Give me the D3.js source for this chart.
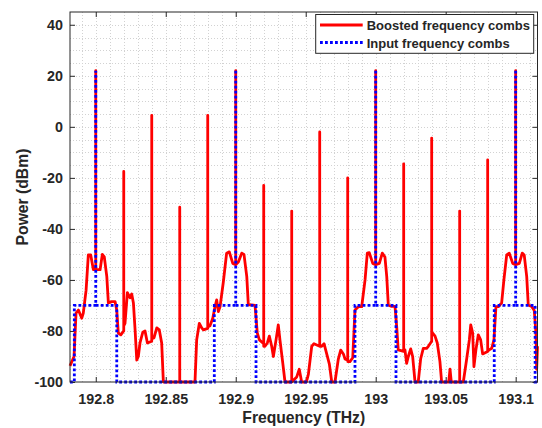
<!DOCTYPE html>
<html>
<head>
<meta charset="utf-8">
<script src="https://cdn.jsdelivr.net/npm/d3@7"></script>
<style>
  html, body { margin: 0; padding: 0; background: #fff; }
  svg { display: block; }
  text { font-family: "Liberation Sans", Arial, Helvetica, sans-serif; font-weight: bold; fill: #262626; }
</style>
</head>
<body>
<svg id="chart" width="542" height="428"></svg>
<script>
// ---------- data ----------
const xTicks = [192.8, 192.85, 192.9, 192.95, 193, 193.05, 193.1];
const xTickLabels = ["192.8", "192.85", "192.9", "192.95", "193", "193.05", "193.1"];
const yTicks = [-100, -80, -60, -40, -20, 0, 20, 40];
const yTickLabels = ["-100", "-80", "-60", "-40", "-20", "0", "20", "40"];
const seriesNames = ["Boosted frequency combs", "Input frequency combs"];

// Boosted frequency combs: [frequency (THz), power (dBm)]
const boosted = [
  [192.7816,-93.7],[192.7845,-90],[192.7859,-73],[192.7876,-71.8],[192.7900,-75],[192.7911,-73],[192.7931,-64],[192.7947,-50.2],[192.7964,-50.2],[192.7983,-56],
  [192.80,-56],[192.80,22],[192.80,-56],
  [192.8031,-56],[192.8047,-50],[192.8061,-51],[192.8079,-58.7],[192.8090,-69],[192.8114,-68.5],[192.8138,-68.5],[192.8150,-71.8],[192.8161,-80.8],[192.8179,-81.5],
  [192.82,-80],[192.82,-17.5],[192.82,-78],
  [192.8209,-77],[192.8226,-65],[192.8245,-67],[192.8257,-65.5],[192.8269,-69],[192.8281,-79.6],[192.8293,-91.4],[192.8304,-90],[192.8316,-84.7],[192.8336,-80.5],[192.8352,-80],[192.8369,-84.7],
  [192.84,-84],[192.84,4.5],[192.84,-83],
  [192.8416,-82.7],[192.8436,-78.8],[192.8454,-79.6],[192.8471,-84.7],[192.8483,-100],
  [192.86,-100],[192.86,-31.5],[192.86,-100],
  [192.8709,-100],[192.8721,-83.5],[192.8740,-77],[192.8757,-78.8],[192.8769,-79.6],
  [192.88,-79],[192.88,4.5],[192.88,-78.5],
  [192.8816,-78],[192.8836,-75],[192.8852,-70.5],[192.8864,-67.8],[192.8876,-72.4],[192.8888,-70.5],[192.8911,-61],[192.8935,-49.5],[192.8954,-49],[192.8979,-53.5],
  [192.90,-54],[192.90,22],[192.90,-54],
  [192.9019,-53],[192.9043,-49.5],[192.9059,-50],[192.9079,-58.7],[192.9090,-69.8],[192.9114,-69.8],[192.9138,-70],[192.9154,-80.8],[192.9169,-83.5],
  [192.92,-85],[192.92,-23],[192.92,-86],
  [192.9209,-86],[192.9226,-84.7],[192.9240,-82],[192.9257,-86],[192.9269,-90],[192.9288,-83.5],[192.9304,-77.6],[192.9316,-83.5],[192.9336,-92.5],[192.9352,-100],
  [192.94,-100],[192.94,-33],[192.94,-100],
  [192.9436,-98],[192.9454,-95],[192.9471,-100],[192.9505,-100],[192.9519,-97],[192.9543,-86],[192.9559,-85],[192.9579,-85.5],
  [192.96,-86],[192.96,-2],[192.96,-86],
  [192.9614,-86],[192.9631,-85],[192.9650,-89],[192.9669,-93],[192.9686,-100],[192.9709,-100],[192.9733,-91],[192.9750,-87.5],[192.9769,-89],[192.9781,-91],
  [192.98,-91.5],[192.98,-20],[192.98,-92],
  [192.9816,-92],[192.9836,-90.5],[192.9852,-71.8],[192.9876,-70.5],[192.9900,-70.5],[192.9924,-60],[192.9940,-49.5],[192.9954,-49.3],[192.9979,-53.5],
  [193.00,-54],[193.00,22],[193.00,-54],
  [193.0026,-53.5],[193.0047,-49.5],[193.0066,-51],[193.0079,-58.7],[193.0090,-69.8],[193.0114,-70.4],[193.0138,-70.4],[193.0150,-78.3],[193.0161,-87.4],
  [193.02,-88],[193.02,-14.5],[193.02,-88],
  [193.0209,-87.4],[193.0221,-92.7],[193.0233,-90],[193.0250,-87],[193.0264,-90],[193.0281,-100],[193.0304,-100],[193.0321,-91],[193.0340,-86.8],[193.0364,-86.8],[193.0376,-86],
  [193.04,-84],[193.04,-4.4],[193.04,-82],
  [193.0407,-80.8],[193.0424,-82],[193.0440,-84.7],[193.0459,-92],[193.0471,-100],[193.0522,-100],[193.0531,-95],[193.0540,-100],
  [193.06,-100],[193.06,-33],[193.06,-100],
  [193.0626,-100],[193.0650,-91],[193.0669,-83.5],[193.0679,-77.6],[193.0693,-80.8],[193.0702,-94],[193.0716,-87.4],[193.0733,-81.5],[193.0750,-83.5],[193.0764,-89],
  [193.08,-88],[193.08,-13],[193.08,-88],
  [193.0811,-87.4],[193.0829,-86.8],[193.0845,-83.5],[193.0859,-70.5],[193.0876,-70.5],[193.0900,-69],[193.0916,-60],[193.0936,-50.2],[193.0954,-49.5],[193.0979,-53.5],
  [193.10,-54],[193.10,22],[193.10,-54],
  [193.1026,-53.5],[193.1047,-49.5],[193.1061,-50.2],[193.1079,-58.7],[193.1090,-69.8],[193.1114,-70.4],[193.1133,-72],[193.1145,-80.8],[193.1150,-95],[193.1156,-86]
];

// Input frequency combs (null = pen up)
const input = [
  [192.7816,-100],[192.7847,-100],[192.7847,-70],[192.80,-70],[192.80,22],[192.80,null],[192.80,-70],[192.8150,-70],[192.8150,-100],
  [192.8847,-100],[192.8847,-70],[192.90,-70],[192.90,22],[192.90,null],[192.90,-70],[192.9145,-70],[192.9145,-100],
  [192.9852,-100],[192.9852,-70],[193.00,-70],[193.00,22],[193.00,null],[193.00,-70],[193.0145,-70],[193.0145,-100],
  [193.0847,-100],[193.0847,-70],[193.10,-70],[193.10,22],[193.10,null],[193.10,-70],[193.1139,-70],[193.1139,-100],[193.1156,-100]
];

// ---------- layout ----------
const L = 70, R = 537.5, T = 12, B = 382;
const svg = d3.select("#chart");

const x = d3.scaleLinear().domain([192.7816, 193.1156]).range([L, R]);
const y = d3.scaleLinear().domain([-100, 45]).range([B, T]);

// grid (minor, dotted)
const gx = d3.range(192.79, 193.1156, 0.01);
const gy = d3.range(-95, 45, 5);
const grid = svg.append("g").attr("stroke", "#d2d2d2").attr("stroke-width", 1).attr("stroke-dasharray", "1,2");
grid.selectAll("line.gx").data(gx).join("line")
  .attr("x1", d => Math.round(x(d)) + 0.5).attr("x2", d => Math.round(x(d)) + 0.5)
  .attr("y1", T).attr("y2", B);
grid.selectAll("line.gy").data(gy).join("line")
  .attr("y1", d => Math.round(y(d)) + 0.5).attr("y2", d => Math.round(y(d)) + 0.5)
  .attr("x1", L).attr("x2", R);

// axes
const fmtX = d => xTickLabels[xTicks.indexOf(d)];
const fmtY = d => yTickLabels[yTicks.indexOf(d)];
const axB = svg.append("g").attr("transform", `translate(0,${B})`)
  .call(d3.axisBottom(x).tickValues(xTicks).tickFormat(fmtX).tickSizeInner(-5).tickSizeOuter(0).tickPadding(12));
const axT = svg.append("g").attr("transform", `translate(0,${T})`)
  .call(d3.axisTop(x).tickValues(xTicks).tickFormat("").tickSizeInner(-5).tickSizeOuter(0));
const axL = svg.append("g").attr("transform", `translate(${L},0)`)
  .call(d3.axisLeft(y).tickValues(yTicks).tickFormat(fmtY).tickSizeInner(-5).tickSizeOuter(0).tickPadding(7));
const axR = svg.append("g").attr("transform", `translate(${R},0)`)
  .call(d3.axisRight(y).tickValues(yTicks).tickFormat("").tickSizeInner(-5).tickSizeOuter(0));
[axB, axT, axL, axR].forEach(a => {
  a.select(".domain").remove();
  a.selectAll(".tick line").attr("stroke", "#262626");
  a.selectAll("text").attr("font-family", "Liberation Sans, Arial, sans-serif").attr("font-weight", "bold")
    .attr("font-size", "14.3px").attr("fill", "#262626");
});

// series
const line = d3.line().defined(d => d[1] != null).x(d => x(d[0])).y(d => y(d[1]));
svg.append("path").datum(boosted).attr("d", line)
  .attr("fill", "none").attr("stroke", "#ff0000").attr("stroke-width", 2.8).attr("stroke-linejoin", "round");
svg.append("path").datum(input).attr("d", line)
  .attr("fill", "none").attr("stroke", "#0000ff").attr("stroke-width", 2.8).attr("stroke-dasharray", "2.8,2.2");

// box
svg.append("rect").attr("x", L).attr("y", T).attr("width", R - L).attr("height", B - T)
  .attr("fill", "none").attr("stroke", "#262626").attr("stroke-width", 1);

// axis titles
svg.append("text").attr("x", (L + R) / 2).attr("y", 423).attr("text-anchor", "middle")
  .attr("font-size", "15.7px").text("Frequency (THz)");
svg.append("text").attr("transform", `translate(28,${(T + B) / 2}) rotate(-90)`).attr("text-anchor", "middle")
  .attr("font-size", "15.7px").text("Power (dBm)");

// legend
const lg = svg.append("g");
lg.append("rect").attr("x", 315.7).attr("y", 14.5).attr("width", 218).attr("height", 38.8)
  .attr("fill", "#fff").attr("stroke", "#262626").attr("stroke-width", 1);
const legendItems = [
  { name: seriesNames[0], color: "#ff0000", dash: null, y: 25 },
  { name: seriesNames[1], color: "#0000ff", dash: "2.8,2.2", y: 42.5 }
];
legendItems.forEach(it => {
  lg.append("line").attr("x1", 320).attr("x2", 362.7).attr("y1", it.y).attr("y2", it.y)
    .attr("stroke", it.color).attr("stroke-width", 2.8).attr("stroke-dasharray", it.dash);
  lg.append("text").attr("x", 366.7).attr("y", it.y + 5).attr("font-size", "13px").text(it.name);
});
</script>
</body>
</html>
